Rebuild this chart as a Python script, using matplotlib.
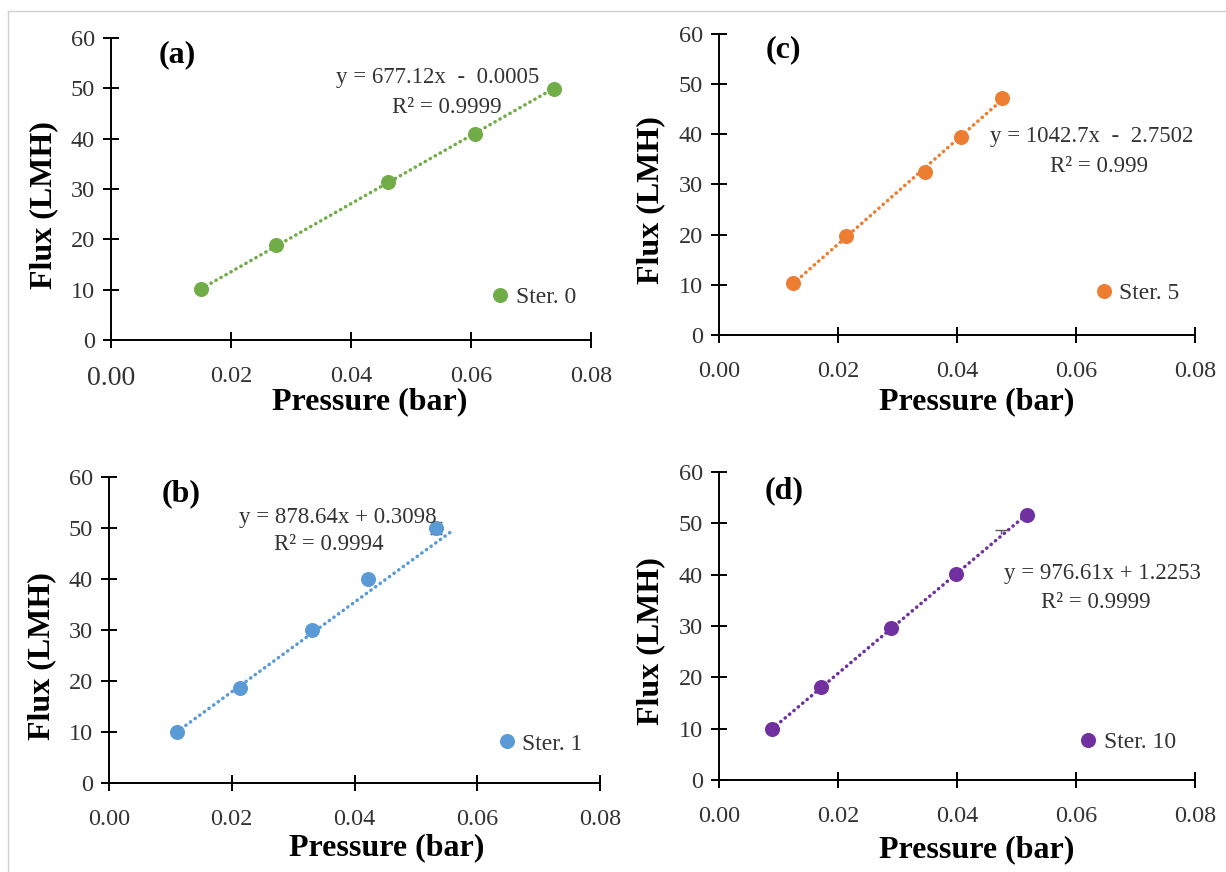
import matplotlib
matplotlib.use("Agg")
import matplotlib.pyplot as plt
from matplotlib.lines import Line2D
import numpy as np

plt.rcParams['font.family'] = ['Liberation Serif', 'DejaVu Serif']

# data
pressure_a = [0.0150, 0.0275, 0.0461, 0.0606, 0.0738]
flux_a = [10.05, 18.85, 31.4, 41.0, 49.9]
pressure_b = [0.0110, 0.0214, 0.0331, 0.0422, 0.0533]
flux_b = [10.0, 18.7, 30.0, 40.0, 50.0]
pressure_c = [0.0124, 0.0213, 0.0346, 0.0407, 0.0476]
flux_c = [10.3, 19.8, 32.4, 39.5, 47.2]
pressure_d = [0.0089, 0.0172, 0.0289, 0.0399, 0.0517]
flux_d = [9.9, 18.2, 29.7, 40.2, 51.6]

labels = ['Ster. 0', 'Ster. 1', 'Ster. 5', 'Ster. 10']
panel_tags = ['(a)', '(b)', '(c)', '(d)']
slopes = [677.12, 878.64, 1042.7, 976.61]
intercepts = [-0.0005, 0.3098, -2.7502, 1.2253]
eq_texts = ['y = 677.12x  -  0.0005', 'y = 878.64x + 0.3098',
            'y = 1042.7x  -  2.7502', 'y = 976.61x + 1.2253']
r2_texts = ['R² = 0.9999', 'R² = 0.9994', 'R² = 0.999', 'R² = 0.9999']
trend_end = [0.0738, 0.0561, 0.0476, 0.0517]

# error bar remnants visible in (b) and (d)
err_b_x, err_b_y, err_b = [0.0533], [50.0], [1.1]
err_d_x, err_d_y, err_d = [0.0474], [48.7], [0.8]

x_ticks = [0.00, 0.02, 0.04, 0.06, 0.08]
y_ticks = [0, 10, 20, 30, 40, 50, 60]

colors = ['#70AD47', '#5B9BD5', '#ED7D31', '#7030A0']

W, H = 1226, 872
fig = plt.figure(figsize=(W / 100, H / 100), dpi=100)

# axes boxes in pixels: left, right, top(60), bottom(0)
boxes = [(111, 591, 38, 340), (109, 600, 477, 783),
         (719, 1195, 34, 335), (719, 1195, 472, 780)]
xdata = [pressure_a, pressure_b, pressure_c, pressure_d]
ydata = [flux_a, flux_b, flux_c, flux_d]
eq_pos = [((0.0544, 52.1), (0.0559, 46.2)), ((0.0372, 52.0), (0.0358, 46.8)),
          ((0.0626, 39.6), (0.0639, 33.6)), ((0.0645, 40.3), (0.0634, 34.6))]
tag_pos = [(0.0110, 56.6), (0.0118, 56.7), (0.0108, 56.9), (0.0110, 56.4)]
leg_pos = [(0.811, 0.140), (0.810, 0.128), (0.808, 0.139), (0.776, 0.122)]
xlab_pos = [(0.538, -0.205), (0.566, -0.212), (0.541, -0.222), (0.541, -0.226)]
ylab_pos = [(-0.140, 0.447), (-0.137, 0.416), (-0.144, 0.449), (-0.144, 0.451)]

fs_tick = 17.5
for i in range(4):
    l, r, t, b = boxes[i]
    ax = fig.add_axes([l / W, 1 - b / H, (r - l) / W, (b - t) / H])
    c = colors[i]
    xs = np.array(xdata[i])
    ys = np.array(ydata[i])

    xt = np.array([xs.min(), trend_end[i]])
    ax.plot(xt, slopes[i] * xt + intercepts[i], color=c, lw=2.5,
            linestyle=(0, (0.1, 1.55)), dash_capstyle='round', zorder=2)
    if i == 1:
        ax.errorbar(err_b_x, err_b_y, yerr=err_b, fmt='none', ecolor='#595959',
                    elinewidth=1, capsize=4.5, zorder=2.5)
    if i == 3:
        ax.errorbar(err_d_x, err_d_y, yerr=[err_d, [0]], fmt='_', ms=9,
                    color='#595959', elinewidth=1, capsize=0, zorder=2.5)
    ax.plot(xs, ys, 'o', color=c, ms=9.8, mec=c, label=labels[i], zorder=3)

    ax.set_xlim(0, 0.08)
    ax.set_ylim(0, 60)
    ax.set_xticks(x_ticks)
    ax.set_xticklabels([f'{v:.2f}' for v in x_ticks])
    ax.set_yticks(y_ticks)
    for s in ['top', 'right']:
        ax.spines[s].set_visible(False)
    for s in ['left', 'bottom']:
        ax.spines[s].set_linewidth(1.4)
    ax.tick_params(axis='x', direction='inout', length=12, width=1.4,
                   pad=12.5, labelsize=fs_tick)
    ax.tick_params(axis='y', direction='inout', length=11, width=1.4,
                   pad=6, labelsize=fs_tick)
    ax.tick_params(colors='black', which='both', labelcolor='#333333')
    if i == 0:
        ax.get_xticklabels()[0].set_fontsize(20)
    ax.patch.set_alpha(0)

    ax.set_xlabel('Pressure (bar)', fontsize=23, fontweight='bold', va='center')
    ax.xaxis.set_label_coords(*xlab_pos[i])
    ax.set_ylabel('Flux (LMH)', fontsize=23, fontweight='bold', va='center')
    ax.yaxis.set_label_coords(*ylab_pos[i])

    ax.text(*tag_pos[i], panel_tags[i], fontsize=23, fontweight='bold',
            ha='center', va='center')
    ax.text(*eq_pos[i][0], eq_texts[i], fontsize=16.5, ha='center',
            va='center', color='#333333')
    ax.text(*eq_pos[i][1], r2_texts[i], fontsize=16.5, ha='center',
            va='center', color='#333333')

    hl = 0.6
    fs_leg = 17
    half_px = hl * fs_leg / 2 * 100 / 72
    mx, my = leg_pos[i]
    ax.legend(loc='center left', bbox_to_anchor=(mx - half_px / (r - l), my),
              frameon=False, fontsize=fs_leg, handlelength=hl,
              handletextpad=0.35, borderpad=0, borderaxespad=0,
              labelcolor='#333333')

# thin grey frame of the original figure
fig.add_artist(Line2D([8 / W, 1], [1 - 11 / H, 1 - 11 / H], color='#cfcfcf', lw=1))
fig.add_artist(Line2D([8 / W, 8 / W], [0, 1 - 11 / H], color='#cfcfcf', lw=1))

fig.savefig('out.png', dpi=100)
